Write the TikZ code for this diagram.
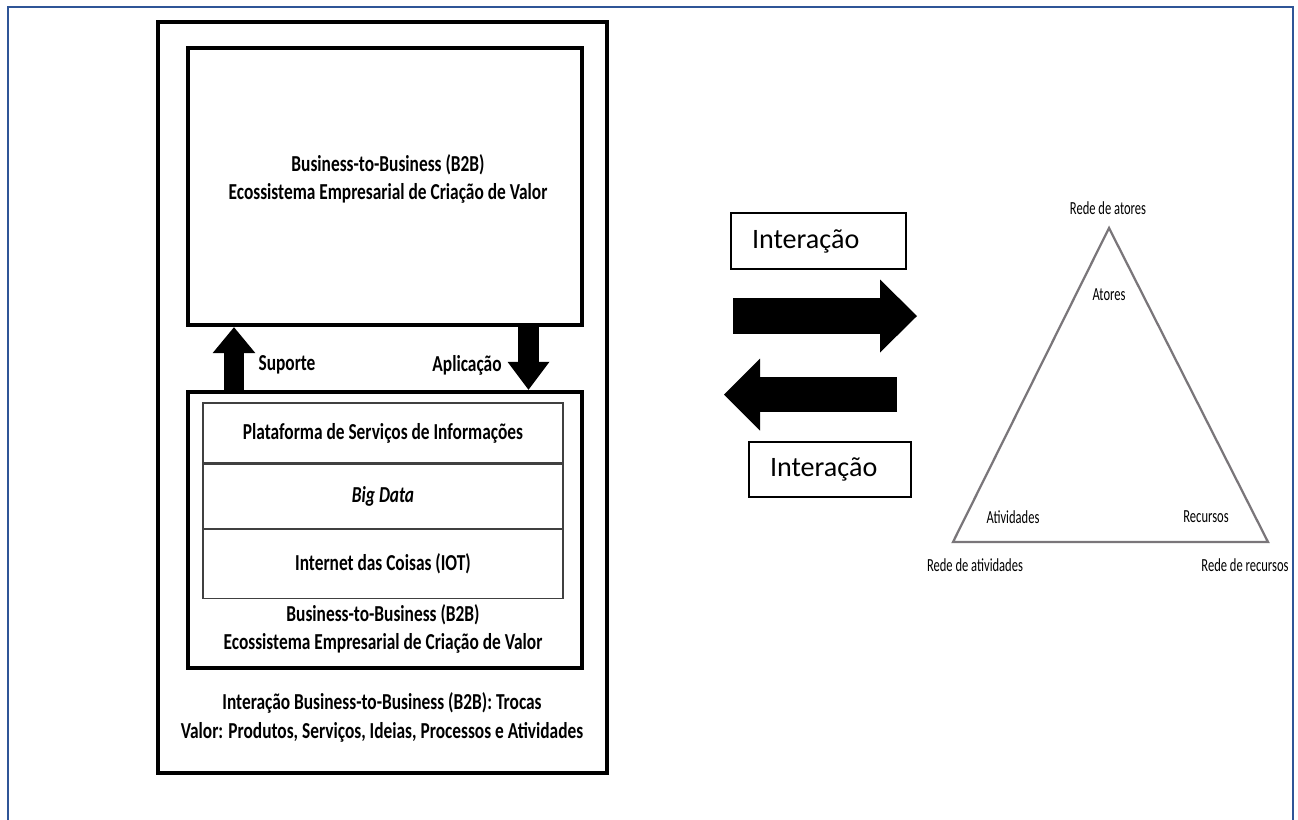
\documentclass[tikz,border=0pt]{standalone}
\usepackage{fontspec}
\setmainfont{Carlito}
\newfontfamily\condfont[FakeStretch=0.76]{Carlito}
\newfontfamily\narrowfont[FakeStretch=0.68]{Carlito}
\usetikzlibrary{positioning,arrows.meta}
\definecolor{frameblue}{RGB}{47,85,151}
\definecolor{trigray}{RGB}{122,118,122}
\tikzset{
  bigbox/.style={draw,line width=0.09cm,minimum width=7.88cm},
  boldtxt/.style={font=\condfont\bfseries\fontsize{13}{15.9}\selectfont,align=center},
  rowbox/.style={draw=black!75,line width=0.7pt,minimum width=7.2cm,boldtxt},
  interbox/.style={draw,line width=0.6pt,inner xsep=0.42cm,align=left,font=\fontsize{16}{19}\selectfont},
  trilabel/.style={font=\narrowfont\fontsize{10.5}{12}\selectfont},
  blockarrow/.style n args={3}{line width=#1,-{Triangle[width=#2,length=#3,line width=0pt]}}
}
\begin{document}
\begin{tikzpicture}[x=0.02cm,y=-0.02cm]
\path[use as bounding box] (0,0) rectangle (1298,819);
\clip (0,0) rectangle (1298,819);
\draw[frameblue,line width=0.05cm] (8,7) rectangle (1293,840);

\node[bigbox,minimum width=8.98cm,minimum height=15.02cm] (outer) at (382.5,397.5) {};
\node[bigbox,minimum height=5.54cm] (upper) at (385,186.5) {};
\node[bigbox,minimum height=5.52cm] (lower) at (385,530) {};
\node[boldtxt] (uppertext) at (388,179) {Business-to-Business (B2B)\\Ecossistema Empresarial de Criação de Valor};

\node[rowbox,minimum height=1.2cm] (plat) at (383,433) {Plataforma de Serviços de Informações};
\node[rowbox,minimum height=1.28cm,below=0pt of plat] (bigdata) {\itshape Big Data};
\node[rowbox,minimum height=1.38cm,below=0pt of bigdata] (iot) {Internet das Coisas (IOT)};
\node[boldtxt] (lowertext) at (383,629) {Business-to-Business (B2B)\\Ecossistema Empresarial de Criação de Valor};
\node[boldtxt,font=\condfont\bfseries\fontsize{13}{16.4}\selectfont] (bottomtext) at (382,717.5) {Interação Business-to-Business (B2B): Trocas\\Valor: Produtos, Serviços, Ideias, Processos e Atividades};

\coordinate (sx) at (234,0);
\coordinate (ax) at (528.5,0);
\draw[blockarrow={0.4cm}{0.86cm}{0.52cm}] (lower.north -| sx) -- (upper.south -| sx);
\draw[blockarrow={0.42cm}{0.84cm}{0.56cm}] (upper.south -| ax) -- (lower.north -| ax);
\node[boldtxt] (suporte) at (287,365) {Suporte};
\node[boldtxt] (aplicacao) at (467,365) {Aplicação};

\node[interbox,text width=2.66cm,minimum height=1.12cm] (inter1) at (818.5,241) {Interação};
\node[interbox,text width=2.4cm,minimum height=1.1cm] (inter2) at (830,469.5) {Interação};
\coordinate (r1) at (733,316);
\coordinate (r2) at (917,316);
\coordinate (l1) at (897,394.5);
\coordinate (l2) at (724,394.5);
\draw[blockarrow={0.72cm}{1.46cm}{0.74cm}] (r1) -- (r2);
\draw[blockarrow={0.7cm}{1.44cm}{0.72cm}] (l1) -- (l2);

\coordinate (ta) at (1109,228);
\coordinate (tb) at (953,542);
\coordinate (tc) at (1268,542);
\draw[trigray,line width=0.045cm] (ta) -- (tb) -- (tc) -- cycle;
\node[trilabel] (redeatores) at (1108,208) {Rede de atores};
\node[trilabel] (atores) at (1109,295) {Atores};
\node[trilabel] (atividades) at (1013,517) {Atividades};
\node[trilabel] (recursos) at (1206,517) {Recursos};
\node[trilabel] (redeatividades) at (975,565) {Rede de atividades};
\node[trilabel] (rederecursos) at (1245,565) {Rede de recursos};
\end{tikzpicture}
\end{document}
